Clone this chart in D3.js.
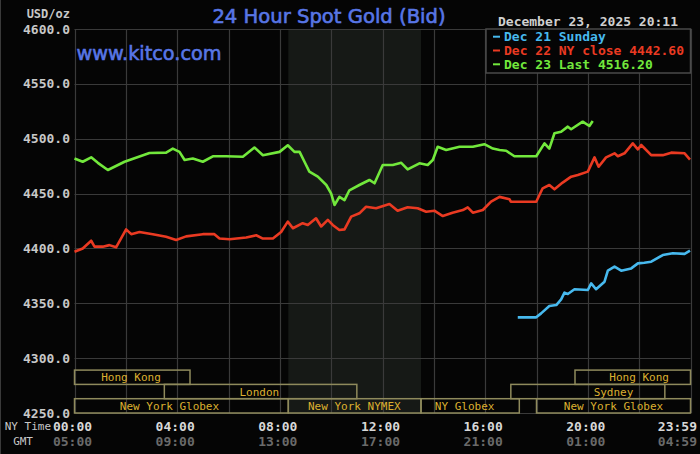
<!DOCTYPE html>
<html>
<head>
<meta charset="utf-8">
<script src="https://cdn.jsdelivr.net/npm/d3@7"></script>
<style>
  html, body { margin: 0; padding: 0; background: #050505; }
  svg { display: block; }
</style>
</head>
<body>
<div id="canvas"></div>
<script>
// datos: [hora NY, precio]
var dec21 = [[17.27,4337.2],[17.99,4337.2],[18.18,4340.8],[18.5,4347.5],[18.77,4348.4],[18.96,4353.6],[19.09,4359.7],[19.22,4358.5],[19.48,4362.8],[20.0,4362.1],[20.13,4368.2],[20.32,4362.8],[20.65,4369.7],[20.78,4379.7],[21.04,4383.4],[21.3,4379.7],[21.69,4381.8],[21.95,4386.4],[22.2,4387],[22.47,4387.9],[22.92,4394],[23.31,4395.6],[23.77,4395],[23.98,4398]];

var dec22 = [[0,4397],[0.32,4400],[0.65,4407],[0.78,4401.6],[1.1,4401.6],[1.36,4403],[1.62,4401],[2.01,4417.4],[2.21,4413],[2.53,4415],[3.05,4413],[3.57,4410.7],[3.96,4407.7],[4.35,4411],[5.0,4413],[5.45,4413],[5.65,4409],[6.04,4408.3],[6.69,4410],[7.08,4412],[7.34,4409],[7.73,4409],[8.05,4415],[8.31,4424.4],[8.51,4418.4],[8.89,4423],[9.09,4421.4],[9.41,4427.5],[9.61,4420],[9.87,4426],[10.06,4421.4],[10.32,4416.8],[10.52,4417.4],[10.78,4429],[11.1,4432],[11.36,4438],[11.75,4436.6],[12.27,4440.5],[12.59,4434.4],[12.98,4437.5],[13.37,4436.6],[13.7,4433.5],[14.02,4434.4],[14.35,4429.5],[14.73,4432.6],[15.13,4435],[15.32,4437.5],[15.52,4432.6],[15.91,4435],[16.23,4442.6],[16.56,4447],[16.95,4444.8],[17.0,4442.6],[17.99,4442.6],[18.24,4454.8],[18.5,4457.8],[18.7,4453.9],[19.02,4460],[19.35,4465.4],[19.61,4467],[20.0,4470],[20.26,4483],[20.42,4474.5],[20.71,4483],[21.04,4486.7],[21.17,4484],[21.43,4486.7],[21.75,4495.8],[21.95,4490.3],[22.08,4494.3],[22.47,4485],[22.92,4485],[23.25,4487.3],[23.77,4486.7],[23.98,4481]];

var dec23 = [[0,4482],[0.32,4479],[0.65,4483],[0.91,4478],[1.3,4471.5],[1.95,4479],[2.92,4487],[3.57,4487.3],[3.83,4491],[4.09,4488],[4.29,4480.6],[4.61,4482],[5.0,4479],[5.39,4484],[5.91,4484],[6.56,4483.6],[7.01,4492],[7.34,4485],[7.99,4488],[8.31,4494],[8.57,4488],[8.77,4488],[8.96,4479],[9.15,4470],[9.48,4465.4],[9.81,4457.8],[10.0,4450],[10.13,4439.6],[10.32,4447],[10.52,4444],[10.71,4453],[11.1,4457.8],[11.49,4462.4],[11.69,4459.4],[12.01,4476],[12.4,4476],[12.73,4478],[12.98,4472],[13.44,4477.6],[13.76,4476],[13.96,4480.6],[14.15,4492.7],[14.48,4489.7],[15.0,4492.7],[15.52,4492.7],[15.97,4495],[16.3,4491],[16.56,4489.7],[16.82,4489],[17.14,4484],[17.99,4484],[18.31,4495.8],[18.5,4491],[18.7,4505],[18.96,4506.4],[19.22,4511],[19.35,4508.6],[19.8,4515.5],[20.06,4511.6],[20.19,4516.2]];

var precios = [4250, 4300, 4350, 4400, 4450, 4500, 4550, 4600];
var horasEje = [0, 4, 8, 12, 16, 20, 24];
var etiquetasNY = ["00:00", "04:00", "08:00", "12:00", "16:00", "20:00", "23:59"];
var etiquetasGMT = ["05:00", "09:00", "13:00", "17:00", "21:00", "01:00", "04:59"];
var leyenda = ["Dec 21 Sunday", "Dec 22 NY close 4442.60", "Dec 23 Last 4516.20"];
var nymex = [8.33, 13.5];
// sesiones: fila, inicio, fin, hora donde va la etiqueta
var sesiones = [
    { nombre: "Hong Kong", fila: 0, inicio: 0, fin: 4.5, etiqueta: 2.2 },
    { nombre: "Hong Kong", fila: 0, inicio: 19.5, fin: 24, etiqueta: 22.0 },
    { nombre: "London", fila: 1, inicio: 3.5, fin: 11, etiqueta: 7.2 },
    { nombre: "Sydney", fila: 1, inicio: 17, fin: 23, etiqueta: 21.0 },
    { nombre: "New York Globex", fila: 2, inicio: 0, fin: 8.33, etiqueta: 3.7 },
    { nombre: "New York NYMEX", fila: 2, inicio: 8.33, fin: 13.5, etiqueta: 10.9 },
    { nombre: "NY Globex", fila: 2, inicio: 13.5, fin: 17.33, etiqueta: 15.2 },
    { nombre: "New York Globex", fila: 2, inicio: 18, fin: 24, etiqueta: 21.0 }
];

var width = 700;
var height = 454;
var margin = {top: 29, right: 9.5, bottom: 41, left: 74.5};
var mono = "'DejaVu Sans Mono', 'Liberation Mono', monospace";
var sans = "'DejaVu Sans', Verdana, sans-serif";

var svg = d3.select("#canvas").append("svg")
    .attr("width", width)
    .attr("height", height);

svg.append("rect")
    .attr("width", width)
    .attr("height", height)
    .attr("fill", "#050505");

svg.append("line")
    .attr("x1", 0.5).attr("x2", 0.5)
    .attr("y1", 0).attr("y2", height)
    .attr("stroke", "#3a3a3a");

var x = d3.scaleLinear()
    .domain([0, 24])
    .range([margin.left, width - margin.right]);

var y = d3.scaleLinear()
    .domain([4250, 4600])
    .range([height - margin.bottom, margin.top]);

// franja NYMEX
svg.append("rect")
    .attr("x", x(nymex[0]))
    .attr("y", y(4600))
    .attr("width", x(nymex[1]) - x(nymex[0]))
    .attr("height", y(4250) - y(4600))
    .attr("fill", "#161916");

// rejilla
svg.append("g")
    .selectAll("line")
    .data(d3.range(0, 25, 2))
    .enter().append("line")
    .attr("x1", function(d) { return Math.round(x(d)) + 0.5; })
    .attr("x2", function(d) { return Math.round(x(d)) + 0.5; })
    .attr("y1", y(4600))
    .attr("y2", y(4250))
    .attr("stroke", "#3a3a3a")
    .attr("stroke-width", 1.2);

svg.append("g")
    .selectAll("line")
    .data(precios)
    .enter().append("line")
    .attr("x1", x(0))
    .attr("x2", x(24))
    .attr("y1", function(d) { return Math.round(y(d)) + 0.5; })
    .attr("y2", function(d) { return Math.round(y(d)) + 0.5; })
    .attr("stroke", "#3a3a3a")
    .attr("stroke-width", 1.2);

// eje Y
svg.append("g")
    .selectAll("text")
    .data(precios)
    .enter().append("text")
    .attr("x", 70)
    .attr("y", function(d) { return y(d); })
    .attr("dy", "0.35em")
    .attr("text-anchor", "end")
    .attr("font-family", mono)
    .attr("font-weight", "bold")
    .attr("font-size", "13px")
    .attr("fill", "#c8c8c8")
    .text(function(d) { return d3.format(".1f")(d); });

svg.append("text")
    .attr("x", 70)
    .attr("y", 14)
    .attr("dy", "0.35em")
    .attr("text-anchor", "end")
    .attr("font-family", mono)
    .attr("font-weight", "bold")
    .attr("font-size", "12px")
    .attr("fill", "#c8c8c8")
    .text("USD/oz");

// eje X
var ejeX = svg.append("g");
ejeX.selectAll(".ny")
    .data(horasEje)
    .enter().append("text")
    .attr("class", "ny")
    .attr("x", function(d, i) { return d === 24 ? width - 3 : x(d) - 2; })
    .attr("y", 426)
    .attr("dy", "0.35em")
    .attr("text-anchor", function(d) { return d === 24 ? "end" : "middle"; })
    .attr("font-family", mono)
    .attr("font-weight", "bold")
    .attr("font-size", "13px")
    .attr("fill", "#d8d8d8")
    .text(function(d, i) { return etiquetasNY[i]; });

ejeX.selectAll(".gmt")
    .data(horasEje)
    .enter().append("text")
    .attr("class", "gmt")
    .attr("x", function(d, i) { return d === 24 ? width - 3 : x(d) - 2; })
    .attr("y", 441)
    .attr("dy", "0.35em")
    .attr("text-anchor", function(d) { return d === 24 ? "end" : "middle"; })
    .attr("font-family", mono)
    .attr("font-weight", "bold")
    .attr("font-size", "13px")
    .attr("fill", "#6a6a6a")
    .text(function(d, i) { return etiquetasGMT[i]; });

svg.append("text")
    .attr("x", 51).attr("y", 426).attr("dy", "0.35em")
    .attr("text-anchor", "end")
    .attr("font-family", mono)
    .attr("font-size", "11px")
    .attr("fill", "#c8c8c8")
    .text("NY Time");

svg.append("text")
    .attr("x", 33).attr("y", 441).attr("dy", "0.35em")
    .attr("text-anchor", "end")
    .attr("font-family", mono)
    .attr("font-size", "11px")
    .attr("fill", "#c8c8c8")
    .text("GMT");

// sesiones de mercado
var alturaFila = 14.3;
var baseFilas = y(4250) - 3 * alturaFila;

var cajas = svg.append("g")
    .selectAll("g")
    .data(sesiones)
    .enter().append("g");

cajas.append("rect")
    .attr("x", function(d) { return x(d.inicio); })
    .attr("y", function(d) { return baseFilas + d.fila * alturaFila; })
    .attr("width", function(d) { return x(d.fin) - x(d.inicio); })
    .attr("height", alturaFila)
    .attr("fill", "none")
    .attr("stroke", "#8f8a5c")
    .attr("stroke-width", 1.5);

cajas.append("text")
    .attr("x", function(d) { return x(d.etiqueta); })
    .attr("y", function(d) { return baseFilas + d.fila * alturaFila + alturaFila / 2; })
    .attr("dy", "0.36em")
    .attr("text-anchor", "middle")
    .attr("font-family", mono)
    .attr("font-size", "11px")
    .attr("fill", "#dcb030")
    .text(function(d) { return d.nombre; });

// líneas de precio
var linea = d3.line()
    .x(function(d) { return x(d[0]); })
    .y(function(d) { return y(d[1]); });

var series = [
    { datos: dec21, color: "#47b9ee" },
    { datos: dec22, color: "#ea3a22" },
    { datos: dec23, color: "#72e83c" }
];

svg.append("g")
    .selectAll("path")
    .data(series)
    .enter().append("path")
    .attr("d", function(d) { return linea(d.datos); })
    .attr("fill", "none")
    .attr("stroke", function(d) { return d.color; })
    .attr("stroke-width", 2.6)
    .attr("stroke-linejoin", "round");

// leyenda
var caja = svg.append("g");
caja.append("rect")
    .attr("x", 486)
    .attr("y", y(4600))
    .attr("width", x(24) - 486)
    .attr("height", 44)
    .attr("fill", "#050505")
    .attr("stroke", "#4a4a4a")
    .attr("stroke-width", 1.5);

var filasLeyenda = caja.selectAll("g")
    .data(leyenda)
    .enter().append("g");

filasLeyenda.append("line")
    .attr("x1", 493).attr("x2", 500)
    .attr("y1", function(d, i) { return 36.7 + i * 13.8; })
    .attr("y2", function(d, i) { return 36.7 + i * 13.8; })
    .attr("stroke", function(d, i) { return series[i].color; })
    .attr("stroke-width", 2);

filasLeyenda.append("text")
    .attr("x", 504)
    .attr("y", function(d, i) { return 36.7 + i * 13.8; })
    .attr("dy", "0.35em")
    .attr("font-family", mono)
    .attr("font-weight", "bold")
    .attr("font-size", "13px")
    .attr("fill", function(d, i) { return series[i].color; })
    .text(function(d) { return d; });

svg.append("text")
    .attr("x", 678)
    .attr("y", 21)
    .attr("dy", "0.35em")
    .attr("text-anchor", "end")
    .attr("font-family", mono)
    .attr("font-weight", "bold")
    .attr("font-size", "13px")
    .attr("fill", "#d0d0d0")
    .text("December 23, 2025 20:11");

// títulos (un poco de trazo para engrosar la letra)
svg.append("text")
    .attr("x", 329)
    .attr("y", 22.7)
    .attr("text-anchor", "middle")
    .attr("font-family", sans)
    .attr("font-size", "19.6px")
    .attr("fill", "#5876e6")
    .attr("stroke", "#5876e6")
    .attr("stroke-width", 0.6)
    .text("24 Hour Spot Gold (Bid)");

svg.append("text")
    .attr("x", 76.5)
    .attr("y", 59.5)
    .attr("font-family", sans)
    .attr("font-size", "19.3px")
    .attr("fill", "#5876e6")
    .attr("stroke", "#5876e6")
    .attr("stroke-width", 0.6)
    .text("www.kitco.com");
</script>
</body>
</html>
